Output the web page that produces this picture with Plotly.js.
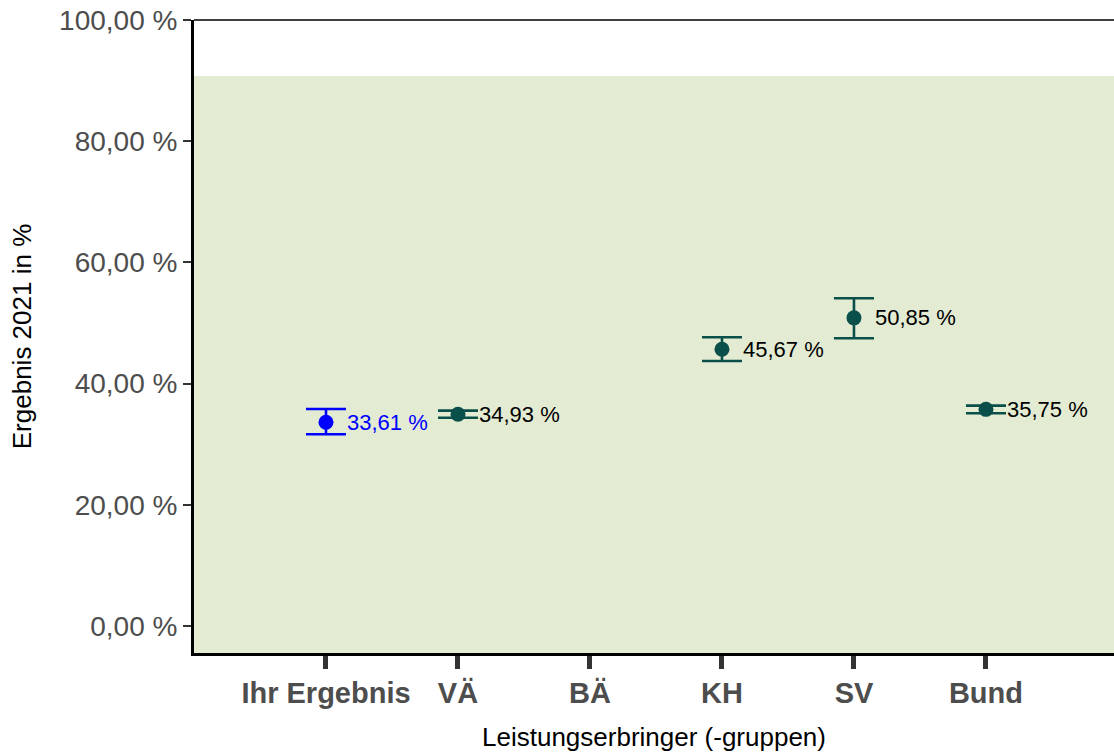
<!DOCTYPE html>
<html>
<head>
<meta charset="utf-8">
<script src="https://cdn.plot.ly/plotly-3.0.1.min.js"></script>
<style>html,body{margin:0;padding:0;background:#fff;}#chart{width:1114px;height:753px;}</style>
</head>
<body>
<div id="chart"></div>
<script>
// Data
const categories = ["Ihr Ergebnis", "VÄ", "BÄ", "KH", "SV", "Bund"];
const values = [33.61, 34.93, null, 45.67, 50.85, 35.75];
const upperCI = [35.81, 35.53, null, 47.64, 54.07, 36.36];
const lowerCI = [31.63, 34.37, null, 43.73, 47.47, 35.10];
const valueLabels = ["33,61 %", "34,93 %", "", "45,67 %", "50,85 %", "35,75 %"];
const yTickVals = [0, 20, 40, 60, 80, 100];
const yTickText = ["0,00 %", "20,00 %", "40,00 %", "60,00 %", "80,00 %", "100,00 %"];
const targetTop = 90.76;

const blue = "#0000FF";
const teal = "#0B4F4A";
const font = "Liberation Sans, Arial, Helvetica, sans-serif";

function subset(idx, arr) { return idx.map(i => arr[i]); }
const ownIdx = [0];
const groupIdx = [1, 2, 3, 4, 5];

function makeTrace(idx, color) {
  const y = subset(idx, values);
  return {
    type: "scatter",
    mode: "markers",
    x: subset(idx, categories),
    y: y,
    marker: {color: color, size: 15},
    error_y: {
      type: "data",
      symmetric: false,
      array: idx.map(i => values[i] == null ? null : upperCI[i] - values[i]),
      arrayminus: idx.map(i => values[i] == null ? null : values[i] - lowerCI[i]),
      color: color,
      thickness: 2.6,
      width: 20
    },
    hoverinfo: "skip",
    showlegend: false,
    cliponaxis: false
  };
}

const traces = [makeTrace(ownIdx, blue), makeTrace(groupIdx, teal)];

const annotations = [];
categories.forEach((c, i) => {
  if (values[i] == null) return;
  annotations.push({
    x: c, y: values[i], xref: "x", yref: "y",
    text: valueLabels[i], showarrow: false,
    xanchor: "left", yanchor: "middle", xshift: 19,
    font: {family: font, size: 22, color: i === 0 ? blue : "#000000"}
  });
});

const layout = {
  width: 1114, height: 753,
  margin: {l: 194, r: 0, t: 20, b: 100, pad: 0},
  paper_bgcolor: "#ffffff",
  plot_bgcolor: "#ffffff",
  font: {family: font},
  xaxis: {
    type: "category",
    categoryorder: "array",
    categoryarray: categories,
    range: [-1, 5.97],
    showgrid: false, zeroline: false,
    showline: true, linecolor: "#000000", linewidth: 2.5,
    ticks: "outside", ticklen: 13, tickwidth: 5, tickcolor: "#333333",
    tickfont: {family: font, size: 29, color: "#4D4D4D", weight: "bold"},
    title: {text: "Leistungserbringer (-gruppen)", font: {family: font, size: 26, color: "#000000"}, standoff: 20},
    fixedrange: true
  },
  yaxis: {
    range: [-4.46, 100],
    tickvals: yTickVals, ticktext: yTickText,
    showgrid: false, zeroline: false,
    showline: true, linecolor: "#000000", linewidth: 3,
    ticks: "outside", ticklen: 8, tickwidth: 2, tickcolor: "#333333",
    tickfont: {family: font, size: 28, color: "#4D4D4D"},
    title: {text: "Ergebnis 2021 in %", font: {family: font, size: 26, color: "#000000"}, standoff: 20},
    fixedrange: true
  },
  shapes: [
    {type: "rect", xref: "paper", yref: "y", x0: 0, x1: 1, y0: -4.46, y1: targetTop,
     fillcolor: "#E3EBD3", line: {width: 0}, layer: "below"},
    {type: "line", xref: "paper", yref: "paper", x0: 0, x1: 1, y0: 1, y1: 1,
     line: {color: "#000000", width: 1.5}}
  ],
  annotations: annotations
};

Plotly.newPlot("chart", traces, layout, {displayModeBar: false, staticPlot: true});
</script>
</body>
</html>
